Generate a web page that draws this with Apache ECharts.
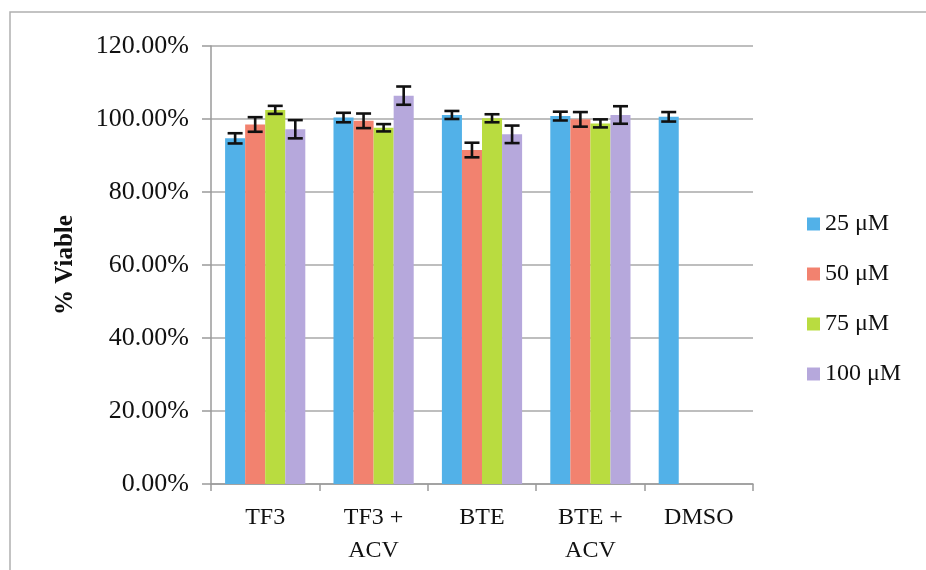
<!DOCTYPE html>
<html><head><meta charset="utf-8">
<script src="https://cdn.jsdelivr.net/npm/echarts@6/dist/echarts.min.js"></script>
<style>html,body{margin:0;padding:0;background:#fff}#c{width:926px;height:570px}</style>
</head><body><div id="c"></div>
<script>
const categories = ['TF3', 'TF3 +\nACV', 'BTE', 'BTE +\nACV', 'DMSO'];
const seriesNames = ['25 μM', '50 μM', '75 μM', '100 μM'];
const v25 = [94.7, 100.4, 101.1, 100.8, 100.6];
const v50 = [98.5, 99.5, 91.5, 99.9, null];
const v75 = [102.5, 97.6, 100.2, 98.8, null];
const v100 = [97.2, 106.4, 95.8, 101.1, null];
const e25 = [1.4, 1.3, 1.1, 1.2, 1.3];
const e50 = [2.0, 2.0, 2.0, 2.0, null];
const e75 = [1.1, 1.0, 1.1, 1.1, null];
const e100 = [2.5, 2.5, 2.4, 2.4, null];
const yTicks = [0, 20, 40, 60, 80, 100, 120];
const colors = ['#52b1e8', '#f2826f', '#b9dc40', '#b6a8dc'];

const values = [v25, v50, v75, v100];
const errors = [e25, e50, e75, e100];
const BW = 0.185;
const FONT = '"Liberation Serif", "DejaVu Serif", serif';

const series = [];
values.forEach((vals, i) => {
  series.push({
    name: seriesNames[i], type: 'bar', data: vals,
    barWidth: (BW * 100) + '%', barGap: '0%', barCategoryGap: '26%',
    itemStyle: { color: colors[i] }, z: 2
  });
});
values.forEach((vals, i) => {
  const data = [];
  vals.forEach((v, k) => { if (v != null) data.push([k, v - errors[i][k], v + errors[i][k]]); });
  series.push({
    type: 'custom', name: seriesNames[i] + ' err', data: data, z: 5,
    renderItem: function (params, api) {
      const x = api.value(0);
      const lo = api.coord([x, api.value(1)]);
      const hi = api.coord([x, api.value(2)]);
      const band = api.size([1, 0])[0];
      const bw = band * BW;
      const cx = lo[0] + (i - 1.5) * bw;
      const hw = 7.5;
      const st = { stroke: '#111', lineWidth: 2.6 };
      return { type: 'group', children: [
        { type: 'line', shape: { x1: cx, y1: lo[1], x2: cx, y2: hi[1] }, style: st },
        { type: 'line', shape: { x1: cx - hw, y1: lo[1], x2: cx + hw, y2: lo[1] }, style: st },
        { type: 'line', shape: { x1: cx - hw, y1: hi[1], x2: cx + hw, y2: hi[1] }, style: st }
      ]};
    }
  });
});

const chart = echarts.init(document.getElementById('c'));
chart.setOption({
  animation: false,
  backgroundColor: '#fff',
  grid: { left: 211, right: 173, top: 46, bottom: 86 },
  legend: {
    data: seriesNames, orient: 'vertical', left: 802, top: 207,
    itemWidth: 13, itemHeight: 13, itemGap: 26, icon: 'rect',
    textStyle: { fontFamily: FONT, fontSize: 24, color: '#111', lineHeight: 24, padding: [0, 0, 0, 0] }
  },
  xAxis: {
    type: 'category', data: categories,
    axisLine: { lineStyle: { color: '#9a9a9a', width: 1.5 } },
    axisTick: { show: true, alignWithLabel: false, length: 7, lineStyle: { color: '#9a9a9a', width: 1.5 } },
    axisLabel: { fontFamily: FONT, fontSize: 24, color: '#111', lineHeight: 33, margin: 17, interval: 0 }
  },
  yAxis: {
    type: 'value', min: 0, max: 120, interval: 20,
    name: '% Viable', nameLocation: 'middle', nameGap: 133, nameRotate: 90,
    nameTextStyle: { fontFamily: FONT, fontSize: 25, fontWeight: 'bold', color: '#111' },
    axisLine: { show: true, lineStyle: { color: '#9a9a9a', width: 1.5 } },
    axisTick: { show: true, inside: false, length: 9, lineStyle: { color: '#9a9a9a', width: 1.5 } },
    splitLine: { lineStyle: { color: '#a8a8a8', width: 1.5 } },
    axisLabel: { fontFamily: FONT, fontSize: 26, color: '#111', margin: 22,
      formatter: v => yTicks.includes(v) ? v.toFixed(2) + '%' : '' }
  },
  graphic: [{
    type: 'polyline', silent: true,
    shape: { points: [[10, 570], [10, 12], [926, 12]] },
    style: { stroke: '#b0b0b0', lineWidth: 1.5, fill: null }
  }],
  series: series
});
</script></body></html>
